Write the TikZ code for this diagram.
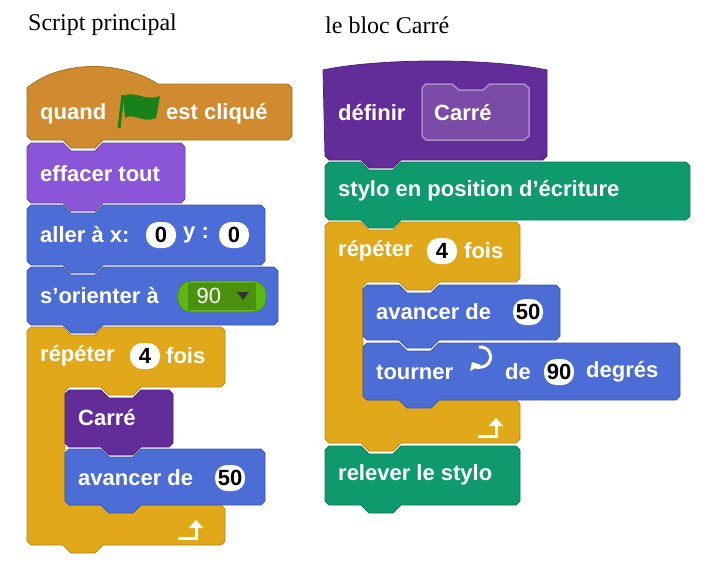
\documentclass[tikz,border=0pt]{standalone}
\usepackage{fontspec}
\setsansfont{Liberation Sans}
\setmainfont{Liberation Serif}
\usetikzlibrary{arrows.meta}
\definecolor{evt}{HTML}{CF8B2E}
\definecolor{looks}{HTML}{8A55D7}
\definecolor{motion}{HTML}{4C6CD6}
\definecolor{ctrl}{HTML}{E1A91A}
\definecolor{custom}{HTML}{632D99}
\definecolor{pen}{HTML}{0E9A6C}
\definecolor{op}{HTML}{5CB712}
\tikzset{
  blk/.style={fill=#1, draw=#1!80!black, line width=0.8pt, line join=round},
  lbl/.style={anchor=west, text=white, inner sep=0pt, font=\sffamily\bfseries\fontsize{22}{24}\selectfont},
  num/.style={fill=white, rounded corners=12pt, minimum width=30pt, minimum height=26pt, inner sep=2pt, font=\sffamily\bfseries\fontsize{22}{24}\selectfont},
  ttl/.style={anchor=west, inner sep=0pt, font=\fontsize{24}{26}\selectfont}
}
% stack block: x, top, right, bottom
\newcommand\stackblk[5]{\path[blk=#5] (#1,#2+4) -- (#1+4,#2) -- (#1+36,#2) -- (#1+44,#2+8) -- (#1+68,#2+8) -- (#1+76,#2) -- (#3-4,#2) -- (#3,#2+4) -- (#3,#4-4) -- (#3-4,#4) -- (#1+76,#4) -- (#1+68,#4+8) -- (#1+44,#4+8) -- (#1+36,#4) -- (#1+4,#4) -- (#1,#4-4) -- cycle;}
% C block: x, top, arm bottom, right, inner x, inner bottom, bottom
\newcommand\cblk[7]{\path[blk=ctrl] (#1,#2+4) -- (#1+4,#2) -- (#1+36,#2) -- (#1+44,#2+8) -- (#1+68,#2+8) -- (#1+76,#2) -- (#4-4,#2) -- (#4,#2+4) -- (#4,#3-4) -- (#4-4,#3) -- (#5+76,#3) -- (#5+68,#3+8) -- (#5+44,#3+8) -- (#5+36,#3) -- (#5+4,#3) -- (#5,#3+4) -- (#5,#6-4) -- (#5+4,#6) -- (#4-4,#6) -- (#4,#6+4) -- (#4,#7-4) -- (#4-4,#7) -- (#1+76,#7) -- (#1+68,#7+8) -- (#1+44,#7+8) -- (#1+36,#7) -- (#1+4,#7) -- (#1,#7-4) -- cycle;}
% loop arrow
\newcommand\looparrow[2]{\draw[white, line width=3pt, -{Triangle[length=8pt,width=14pt]}] (#1-18,#2+8) -- (#1,#2+8) -- (#1,#2-10);}

\begin{document}
\begin{tikzpicture}[x=1pt,y=-1pt]
  \useasboundingbox (0,0) rectangle (708,586);
  % titles
  \node[ttl] (t1) at (28,25) {Script principal};
  \node[ttl] (t2) at (325,25) {le bloc Carré};

  % ---- main script
  \path[blk=evt] (27,88) .. controls (60,60) and (120,60) .. (158,84) -- (288,84) -- (292,88) -- (292,136) -- (288,140) -- (103,140) -- (95,148) -- (71,148) -- (63,140) -- (31,140) -- (27,136) -- cycle;
  \node[lbl] (hat) at (40,114) {quand};
  \fill[green!45!black!90] (123,96) .. controls (135,90) and (145,102) .. (160,96) -- (156,118) .. controls (143,124) and (133,112) .. (125,118) -- cycle;
  \draw[green!45!black!90, line width=3pt] (123,95) -- (119,128);
  \node[lbl] (hat2) at (166,114) {est cliqué};

  \stackblk{27}{143}{185}{203}{looks}
  \node[lbl] (clr) at (40,174) {effacer tout};
  \stackblk{27}{205}{265}{265}{motion}
  \node[lbl] (goto) at (40,235) {aller à x:};
  \node[num] (gx) at (161,235) {0};
  \node[lbl] (goy) at (183,235) {y :};
  \node[num] (gy) at (234,235) {0};
  \stackblk{27}{267}{278}{325}{motion}
  \node[lbl] (dir) at (40,296) {s’orienter à};
  \path[fill=op, draw=op!70!black, rounded corners=13pt] (178,281) rectangle (266,312);
  \fill[op!80!black] (188,283) rectangle (256,310);
  \node[anchor=west, text=white, font=\sffamily\fontsize{22}{24}\selectfont] (dirv) at (193,296) {90};
  \fill[black!80] (237,292) -- (249,292) -- (243,300) -- cycle;

  \cblk{27}{327}{387}{225}{65}{505}{545}
  \node[lbl] (rep1) at (40,356) {répéter};
  \node[num] (rep1n) at (145,356) {4};
  \node[lbl] (rep1b) at (166,356) {fois};
  \stackblk{65}{390}{173}{447}{custom}
  \node[lbl] (sq) at (78,418) {Carré};
  \stackblk{65}{449}{265}{505}{motion}
  \node[lbl] (fw1) at (78,478) {avancer de};
  \node[num] (fw1n) at (230,478) {50};
  \looparrow{196}{530}

  % ---- custom block
  \path[blk=custom] (323,70) .. controls (380,58) and (490,58) .. (547,70) -- (547,156) -- (543,160) -- (401,160) -- (393,168) -- (369,168) -- (361,160) -- (329,160) -- (325,156) -- cycle;
  \node[lbl] (def) at (338,113) {définir};
  \path[fill=custom!85!white, draw=custom!55!white, line width=1.5pt] (422,88) -- (426,84) -- (452,84) -- (459,90) -- (483,90) -- (490,84) -- (524,84) -- (529,88) -- (529,136) -- (524,140) -- (426,140) -- (422,136) -- cycle;
  \node[lbl] (defn) at (434,113) {Carré};

  \stackblk{325}{162}{690}{220}{pen}
  \node[lbl] (pd) at (338,191) {stylo en position d’écriture};
  \cblk{325}{222}{282}{520}{363}{400}{443}
  \node[lbl] (rep2) at (338,251) {répéter};
  \node[num] (rep2n) at (442,251) {4};
  \node[lbl] (rep2b) at (464,251) {fois};
  \stackblk{363}{285}{560}{340}{motion}
  \node[lbl] (fw2) at (376,312) {avancer de};
  \node[num] (fw2n) at (528,312) {50};
  \stackblk{363}{343}{680}{400}{motion}
  \node[lbl] (tr) at (376,372) {tourner};
  \draw[white, line width=3pt, {Triangle[length=7pt,width=12pt]}-] (472,362) arc[start angle=150, end angle=-100, radius=10];
  \node[lbl] (trb) at (505,372) {de};
  \node[num] (trn) at (559,372) {90};
  \node[lbl] (trc) at (586,372) {degrés};
  \looparrow{496}{428}
  \stackblk{325}{446}{520}{505}{pen}
  \node[lbl] (pu) at (338,475) {relever le stylo};
\end{tikzpicture}
\end{document}
